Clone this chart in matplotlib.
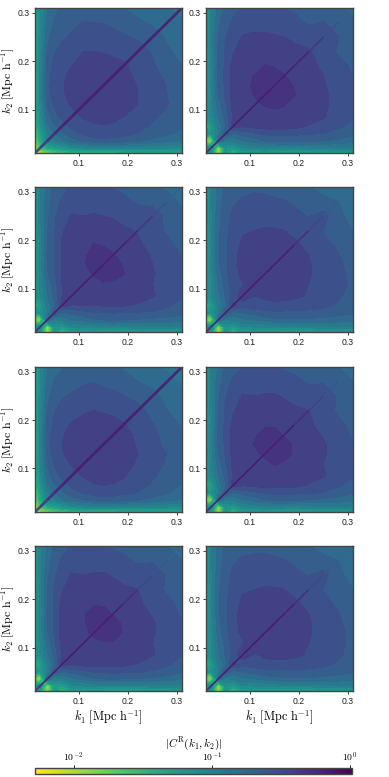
#!/usr/bin/env python
"""
Eight panels of the correlation |C^R(k1, k2)| with a shared log colorbar.
Values are log10 |C^R| read off the picture, upper triangle by k1 column.
"""

import matplotlib
matplotlib.use("Agg")
import matplotlib.pyplot as plt
from matplotlib.colors import LogNorm, Normalize
from matplotlib.cm import ScalarMappable
import numpy as np

plt.rcParams['mathtext.fontset'] = 'cm'
plt.rcParams['font.family'] = ['Liberation Sans', 'DejaVu Sans']

W, H = 389, 777

K = [0.01, 0.02, 0.035, 0.05, 0.065, 0.085, 0.11, 0.13, 0.15, 0.17, 0.19, 0.22, 0.25, 0.28, 0.31]
TICKS = [0.1, 0.2, 0.3]
CBAR_TICKS = [0.01, 0.1, 1.0]
CBAR_TICK_LABELS = [r'$10^{-2}$', r'$10^{-1}$', r'$10^{0}$']
LOG_MIN, LOG_MAX = -2.28, 0.015
# the readings below came out a little too dark against the colorbar
READ_OFFSET = -0.12

PANEL_1 = [
    [-1.9, -2.0, -1.75, -1.6, -1.5, -1.45, -1.4, -1.4, -1.4, -1.4, -1.35, -1.35, -1.3, -1.3, -1.3],
    [-1.5, -1.3, -1.2, -1.1, -1.0, -.95, -.92, -.9, -.9, -.92, -.92, -.95, -.95, -.98],
    [-.9, -.85, -.75, -.65, -.58, -.53, -.52, -.53, -.55, -.59, -.63, -.68, -.73],
    [-.7, -.62, -.53, -.46, -.43, -.42, -.43, -.45, -.49, -.54, -.58, -.63],
    [-.55, -.46, -.4, -.385, -.38, -.385, -.4, -.45, -.5, -.54, -.59],
    [-.4, -.36, -.34, -.33, -.345, -.37, -.42, -.47, -.51, -.56],
    [-.33, -.31, -.3, -.31, -.34, -.37, -.44, -.48, -.54],
    [-.3, -.29, -.3, -.33, -.37, -.43, -.485, -.54],
    [-.29, -.3, -.33, -.375, -.44, -.49, -.55],
    [-.31, -.34, -.39, -.45, -.51, -.57],
    [-.35, -.41, -.47, -.54, -.6],
    [-.44, -.5, -.58, -.64],
    [-.54, -.62, -.68],
    [-.66, -.71],
    [-.73],
]
PANEL_2 = [
    [-1.05, -1.1, -1.85, -1.05, -1.5, -1.15, -1.2, -1.15, -1.2, -1.25, -1.2, -1.2, -1.15, -1.15, -1.1],
    [-.8, -1.85, -1.05, -1.15, -.95, -.9, -.9, -.9, -.88, -.9, -.88, -.85, -.85, -.85],
    [-.6, -.85, -.8, -.72, -.66, -.6, -.58, -.56, -.58, -.58, -.6, -.63, -.68],
    [-.45, -.62, -.55, -.5, -.46, -.46, -.45, -.46, -.47, -.49, -.52, -.56],
    [-.3, -.36, -.33, -.32, -.32, -.32, -.33, -.38, -.42, -.47, -.52],
    [-.25, -.31, -.29, -.28, -.28, -.29, -.32, -.36, -.42, -.47],
    [-.27, -.25, -.24, -.25, -.3, -.34, -.36, -.39, -.45],
    [-.24, -.22, -.22, -.25, -.3, -.35, -.41, -.47],
    [-.22, -.23, -.26, -.31, -.36, -.42, -.47],
    [-.25, -.29, -.33, -.37, -.43, -.49],
    [-.31, -.34, -.39, -.45, -.5],
    [-.36, -.42, -.5, -.52],
    [-.38, -.48, -.54],
    [-.55, -.58],
    [-.64],
]
PANEL_3 = [
    [-1.05, -1.1, -1.85, -1.05, -1.5, -1.15, -1.2, -1.15, -1.2, -1.25, -1.2, -1.2, -1.15, -1.15, -1.1],
    [-.8, -1.85, -1.05, -1.15, -.95, -.92, -.92, -.9, -.88, -.9, -.88, -.85, -.85, -.85],
    [-.6, -.85, -.8, -.72, -.68, -.62, -.6, -.58, -.6, -.61, -.63, -.65, -.68],
    [-.45, -.62, -.56, -.52, -.49, -.48, -.48, -.48, -.49, -.5, -.52, -.56],
    [-.3, -.38, -.37, -.36, -.36, -.36, -.36, -.38, -.42, -.47, -.52],
    [-.25, -.33, -.31, -.3, -.3, -.31, -.33, -.36, -.42, -.47],
    [-.29, -.27, -.26, -.27, -.3, -.34, -.37, -.4, -.46],
    [-.25, -.23, -.22, -.25, -.31, -.36, -.42, -.47],
    [-.22, -.23, -.26, -.32, -.37, -.43, -.48],
    [-.25, -.28, -.33, -.38, -.44, -.49],
    [-.31, -.35, -.41, -.46, -.51],
    [-.38, -.44, -.5, -.55],
    [-.42, -.52, -.58],
    [-.56, -.62],
    [-.66],
]
PANEL_4 = [
    [-1.05, -1.1, -1.85, -1.05, -1.5, -1.15, -1.2, -1.15, -1.2, -1.25, -1.2, -1.2, -1.15, -1.15, -1.1],
    [-.8, -1.85, -1.05, -1.15, -.95, -.95, -.95, -.92, -.9, -.92, -.9, -.88, -.85, -.85],
    [-.6, -.85, -.8, -.74, -.72, -.66, -.62, -.62, -.62, -.62, -.64, -.66, -.68],
    [-.45, -.65, -.58, -.55, -.52, -.51, -.51, -.51, -.52, -.53, -.55, -.58],
    [-.33, -.44, -.41, -.4, -.39, -.4, -.41, -.43, -.46, -.5, -.55],
    [-.28, -.37, -.35, -.34, -.34, -.35, -.38, -.42, -.47, -.52],
    [-.3, -.32, -.31, -.32, -.34, -.37, -.42, -.46, -.5],
    [-.28, -.3, -.31, -.33, -.36, -.41, -.46, -.51],
    [-.29, -.31, -.33, -.36, -.42, -.47, -.52],
    [-.32, -.34, -.37, -.43, -.48, -.54],
    [-.34, -.41, -.46, -.5, -.56],
    [-.42, -.49, -.54, -.6],
    [-.44, -.58, -.63],
    [-.6, -.67],
    [-.68],
]
PANEL_5 = [
    [-1.9, -2.0, -1.75, -1.6, -1.52, -1.45, -1.42, -1.4, -1.4, -1.4, -1.35, -1.35, -1.3, -1.3, -1.3],
    [-1.5, -1.3, -1.2, -1.1, -1.0, -.95, -.92, -.9, -.9, -.92, -.92, -.95, -.95, -.98],
    [-.9, -.85, -.75, -.65, -.6, -.55, -.53, -.53, -.55, -.59, -.63, -.68, -.73],
    [-.7, -.62, -.53, -.47, -.44, -.43, -.44, -.46, -.49, -.54, -.59, -.63],
    [-.55, -.46, -.41, -.38, -.37, -.38, -.4, -.45, -.5, -.56, -.61],
    [-.4, -.36, -.33, -.32, -.34, -.36, -.42, -.47, -.53, -.58],
    [-.33, -.3, -.29, -.31, -.34, -.38, -.44, -.5, -.56],
    [-.3, -.29, -.3, -.33, -.37, -.43, -.49, -.55],
    [-.29, -.3, -.33, -.38, -.45, -.51, -.57],
    [-.31, -.34, -.39, -.46, -.52, -.58],
    [-.36, -.42, -.48, -.55, -.61],
    [-.45, -.52, -.6, -.66],
    [-.56, -.64, -.7],
    [-.68, -.73],
    [-.75],
]
PANEL_6 = [
    [-1.05, -1.1, -1.85, -1.05, -1.5, -1.15, -1.2, -1.15, -1.2, -1.25, -1.2, -1.2, -1.15, -1.15, -1.1],
    [-.8, -1.85, -1.05, -1.15, -.95, -.9, -.9, -.88, -.88, -.9, -.88, -.85, -.85, -.85],
    [-.6, -.85, -.8, -.72, -.66, -.6, -.58, -.57, -.58, -.6, -.62, -.65, -.7],
    [-.45, -.62, -.55, -.5, -.47, -.46, -.45, -.46, -.47, -.49, -.53, -.58],
    [-.3, -.36, -.34, -.33, -.33, -.33, -.34, -.38, -.42, -.47, -.53],
    [-.25, -.32, -.3, -.29, -.29, -.3, -.33, -.36, -.43, -.48],
    [-.27, -.27, -.25, -.26, -.3, -.35, -.37, -.41, -.47],
    [-.24, -.23, -.24, -.26, -.31, -.36, -.42, -.48],
    [-.23, -.24, -.26, -.31, -.36, -.42, -.48],
    [-.26, -.29, -.33, -.38, -.44, -.5],
    [-.31, -.35, -.41, -.46, -.51],
    [-.37, -.44, -.5, -.54],
    [-.4, -.5, -.56],
    [-.57, -.6],
    [-.65],
]
PANEL_7 = [
    [-1.05, -1.2, -1.75, -1.1, -1.45, -1.15, -1.25, -1.2, -1.25, -1.3, -1.25, -1.25, -1.2, -1.2, -1.15],
    [-.8, -1.9, -1.15, -1.2, -.98, -.95, -.92, -.9, -.9, -.92, -.9, -.88, -.88, -.88],
    [-.6, -.9, -.85, -.74, -.68, -.62, -.6, -.58, -.6, -.6, -.63, -.66, -.7],
    [-.45, -.62, -.55, -.5, -.47, -.46, -.46, -.46, -.47, -.5, -.53, -.58],
    [-.3, -.36, -.33, -.32, -.33, -.33, -.34, -.38, -.42, -.47, -.53],
    [-.25, -.32, -.3, -.29, -.29, -.3, -.32, -.36, -.43, -.48],
    [-.27, -.27, -.26, -.26, -.3, -.34, -.37, -.41, -.47],
    [-.24, -.23, -.23, -.26, -.31, -.36, -.42, -.48],
    [-.23, -.24, -.26, -.31, -.36, -.42, -.48],
    [-.26, -.28, -.33, -.38, -.44, -.5],
    [-.31, -.35, -.41, -.46, -.51],
    [-.37, -.44, -.5, -.54],
    [-.4, -.5, -.56],
    [-.57, -.6],
    [-.65],
]
PANEL_8 = [
    [-1.05, -1.1, -1.85, -1.05, -1.5, -1.15, -1.2, -1.15, -1.2, -1.25, -1.2, -1.2, -1.15, -1.15, -1.1],
    [-.8, -1.85, -1.05, -1.15, -.95, -.95, -.95, -.92, -.9, -.92, -.9, -.88, -.85, -.85],
    [-.6, -.85, -.8, -.74, -.72, -.66, -.64, -.62, -.62, -.62, -.64, -.66, -.68],
    [-.45, -.65, -.58, -.56, -.53, -.52, -.51, -.51, -.52, -.53, -.55, -.58],
    [-.33, -.45, -.42, -.4, -.4, -.4, -.41, -.43, -.46, -.5, -.55],
    [-.28, -.38, -.35, -.34, -.34, -.35, -.38, -.42, -.47, -.52],
    [-.3, -.32, -.31, -.32, -.34, -.37, -.42, -.46, -.51],
    [-.28, -.3, -.31, -.33, -.36, -.41, -.46, -.51],
    [-.29, -.31, -.33, -.36, -.42, -.47, -.52],
    [-.32, -.34, -.37, -.43, -.48, -.54],
    [-.34, -.41, -.46, -.5, -.56],
    [-.42, -.49, -.54, -.6],
    [-.44, -.58, -.63],
    [-.6, -.67],
    [-.68],
]

# log10 |C^R| along k1 = k2
DIAG_1 = [-.6, -.5, -.35, -.27, -.22, -.2, -.19, -.19, -.19, -.19, -.19, -.2, -.21, -.22, -.24]
DIAG_2 = [-.35, -.25, -.2, -.18, -.17, -.17, -.17, -.17, -.17, -.18, -.19, -.26, -.48, -.6, -.76]
DIAG_3 = [-.35, -.25, -.2, -.18, -.17, -.17, -.17, -.17, -.17, -.18, -.19, -.26, -.48, -.62, -.78]
DIAG_4 = [-.35, -.25, -.2, -.18, -.17, -.17, -.17, -.17, -.18, -.19, -.21, -.42, -.56, -.7, -.8]
DIAG_5 = [-.6, -.5, -.35, -.27, -.22, -.2, -.19, -.19, -.19, -.19, -.19, -.2, -.21, -.22, -.24]
DIAG_6 = [-.35, -.25, -.2, -.18, -.17, -.17, -.17, -.17, -.17, -.18, -.2, -.38, -.52, -.67, -.78]
DIAG_7 = [-.35, -.25, -.2, -.18, -.17, -.17, -.17, -.17, -.17, -.18, -.2, -.4, -.54, -.67, -.78]
DIAG_8 = [-.35, -.25, -.2, -.18, -.17, -.17, -.17, -.17, -.18, -.19, -.21, -.42, -.56, -.7, -.8]

PANELS = [PANEL_1, PANEL_2, PANEL_3, PANEL_4, PANEL_5, PANEL_6, PANEL_7, PANEL_8]
DIAGS = [DIAG_1, DIAG_2, DIAG_3, DIAG_4, DIAG_5, DIAG_6, DIAG_7, DIAG_8]
# full diagonal panels draw a thicker line
DIAG_WIDTH = [2.0, 1.2, 1.2, 1.2, 2.0, 1.2, 1.2, 1.2]


def to_matrix(rows):
    """
    Fill the symmetric matrix from its upper triangle rows.
    """
    n = len(K)
    mat = np.zeros((n, n))
    for i, row in enumerate(rows):
        assert len(row) == n - i, (i, len(row))
        for j, val in enumerate(row):
            mat[i, i + j] = val + READ_OFFSET
            mat[i + j, i] = val + READ_OFFSET
    return mat


def px_axes(fig, x0, y0, x1, y1):
    """
    Axes from pixel box, y counted from the top of the picture.
    """
    return fig.add_axes([x0 / W, 1 - y1 / H, (x1 - x0) / W, (y1 - y0) / H])


def style_axes(ax):
    ax.set_xlim(K[0], K[-1])
    ax.set_ylim(K[0], K[-1])
    ax.set_xticks(TICKS)
    ax.set_yticks(TICKS)
    ax.tick_params(labelsize=6.2, length=2, width=0.6, pad=2, colors='#222222')
    for spine in ax.spines.values():
        spine.set_linewidth(1.0)
        spine.set_color('#444444')


def draw_panel(ax, rows, diag, width, levels, norm):
    ax.contourf(K, K, to_matrix(rows), levels=levels, cmap='viridis_r', norm=norm)
    for i in range(len(K) - 1):
        val = (diag[i] + diag[i + 1]) / 2
        ax.plot(K[i:i + 2], K[i:i + 2], color=plt.cm.viridis_r(norm(val)),
                lw=width, solid_capstyle='butt')


if __name__ == "__main__":
    fig = plt.figure(figsize=(W / 100, H / 100), dpi=100)

    levels = np.arange(-2.445, 0.1, 0.115)
    norm = Normalize(LOG_MIN, LOG_MAX)

    lefts = [35, 206]
    tops = [8, 187, 367, 546]
    for idx in range(8):
        row, col = idx // 2, idx % 2
        ax = px_axes(fig, lefts[col], tops[row], lefts[col] + 147, tops[row] + 145)
        draw_panel(ax, PANELS[idx], DIAGS[idx], DIAG_WIDTH[idx], levels, norm)
        style_axes(ax)
        if col == 0:
            ax.set_ylabel(r'$k_2\ [\mathrm{Mpc\ h}^{-1}]$', fontsize=8.6)
            ax.yaxis.set_label_coords(-0.125, 0.5)
        if row == 3:
            ax.set_xlabel(r'$k_1\ [\mathrm{Mpc\ h}^{-1}]$', fontsize=8.8, labelpad=2)

    cax = px_axes(fig, 35, 768, 352, 774)
    sm = ScalarMappable(norm=LogNorm(10 ** LOG_MIN, 10 ** LOG_MAX), cmap='viridis_r')
    cbar = fig.colorbar(sm, cax=cax, orientation='horizontal')
    cbar.set_ticks(CBAR_TICKS, labels=CBAR_TICK_LABELS)
    cbar.ax.minorticks_off()
    cbar.ax.xaxis.set_ticks_position('top')
    cbar.ax.xaxis.set_label_position('top')
    cbar.ax.tick_params(labelsize=7, length=2, width=0.6, pad=1)
    cbar.set_label(r'$|C^{\mathrm{R}}(k_1,k_2)|$', fontsize=8, labelpad=3)
    cbar.outline.set_linewidth(1.0)
    cbar.outline.set_edgecolor('#444444')

    fig.savefig('out.png', dpi=100)
